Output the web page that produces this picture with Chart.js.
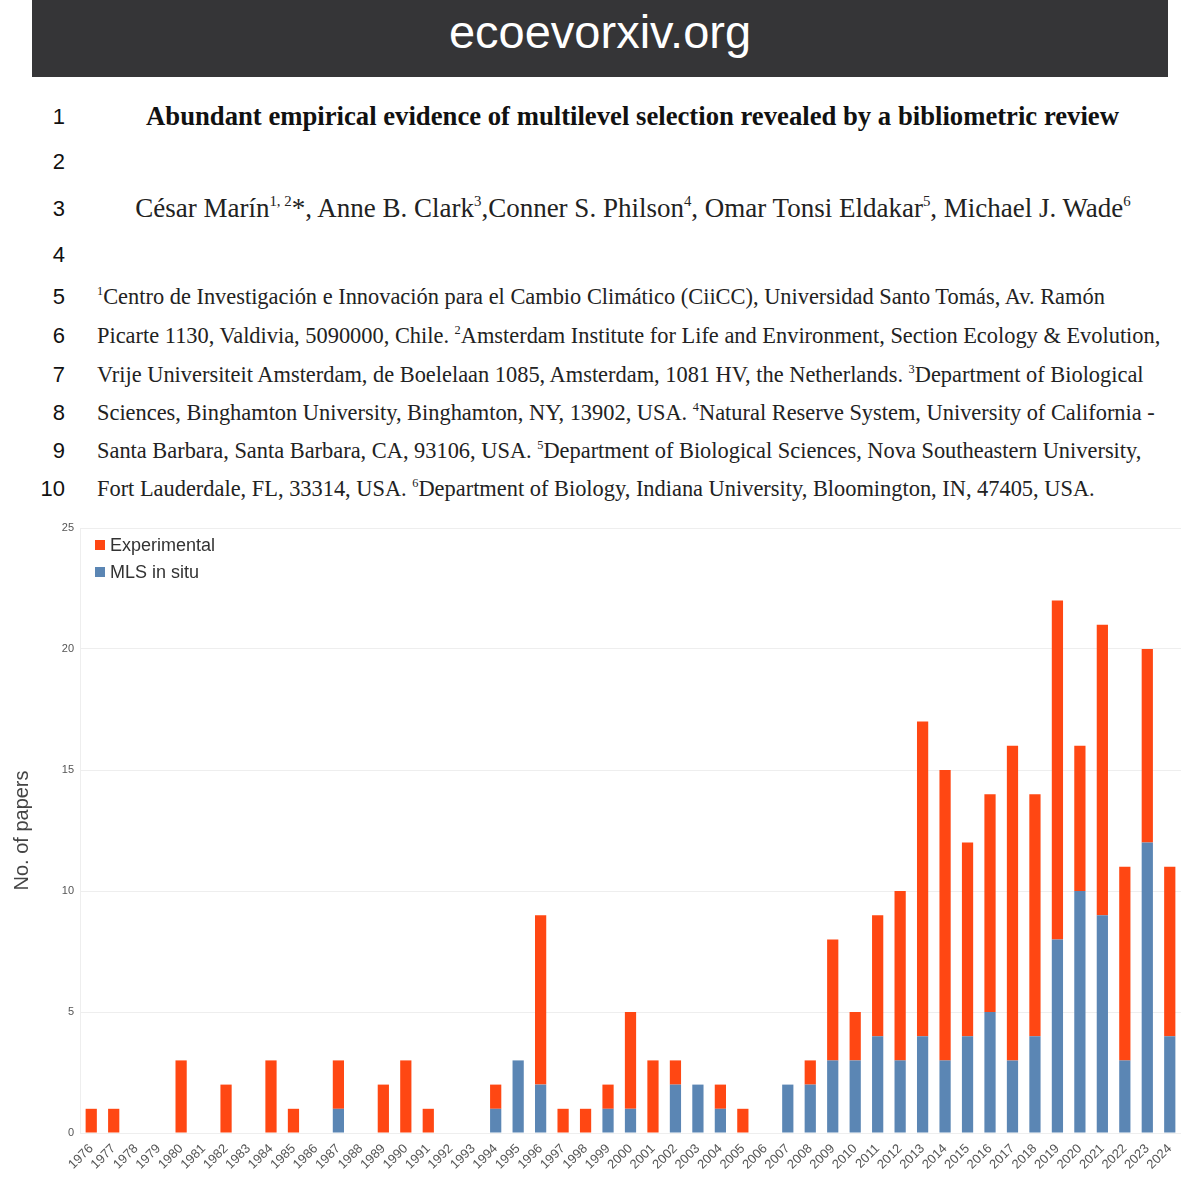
<!DOCTYPE html>
<html>
<head>
<meta charset="utf-8">
<script src="https://cdn.jsdelivr.net/npm/chart.js@4.4.0/dist/chart.umd.min.js"></script>
<style>
  body { margin: 0; width: 1200px; height: 1200px; background: #fff; position: relative; overflow: hidden; }
  #header {
    position: absolute; left: 32px; top: 0; width: 1136px; height: 77px;
    background: #353537; color: #fff; text-align: center;
    font-family: "Liberation Sans", Arial, sans-serif; font-size: 47px; line-height: 64px;
  }
  .num {
    position: absolute; left: 0; width: 65px; text-align: right;
    font-family: "Liberation Sans", Arial, sans-serif; font-size: 22px; color: #111; line-height: 26px;
  }
  .txt {
    position: absolute; white-space: nowrap; color: #222;
    font-family: "Liberation Serif", "Times New Roman", serif; line-height: 26px;
  }
  .txt sup { font-size: 0.55em; vertical-align: 0; position: relative; top: -0.75em; }
  #chartBox { position: absolute; left: 0; top: 515px; width: 1200px; height: 675px; }
  #legend { position: absolute; left: 95px; top: 535px; font-family: "Liberation Sans", Arial, sans-serif; font-size: 18px; color: #333; }
  #legend div { height: 27px; line-height: 20px; }
  #legend span.box { display: inline-block; width: 10px; height: 10px; margin-right: 5px; vertical-align: 1px; }
</style>
</head>
<body>
<div id="header">ecoevorxiv.org</div>

<div class="num" style="top:104px">1</div>
<div class="num" style="top:149px">2</div>
<div class="num" style="top:196px">3</div>
<div class="num" style="top:242px">4</div>
<div class="num" style="top:284px">5</div>
<div class="num" style="top:323px">6</div>
<div class="num" style="top:362px">7</div>
<div class="num" style="top:400px">8</div>
<div class="num" style="top:438px">9</div>
<div class="num" style="top:476px">10</div>

<div class="txt" style="left:0;width:1265px;text-align:center;top:103px;font-size:26.7px;font-weight:bold;color:#111">Abundant empirical evidence of multilevel selection revealed by a bibliometric review</div>
<div class="txt" style="left:0;width:1266px;text-align:center;top:195px;font-size:27px">César Marín<sup>1, 2</sup>*, Anne B. Clark<sup>3</sup>,Conner S. Philson<sup>4</sup>, Omar Tonsi Eldakar<sup>5</sup>, Michael J. Wade<sup>6</sup></div>

<div class="txt" style="left:97px;top:284px;font-size:22.4px"><sup>1</sup>Centro de Investigación e Innovación para el Cambio Climático (CiiCC), Universidad Santo Tomás, Av. Ramón</div>
<div class="txt" style="left:97px;top:323px;font-size:22.4px">Picarte 1130, Valdivia, 5090000, Chile. <sup>2</sup>Amsterdam Institute for Life and Environment, Section Ecology &amp; Evolution,</div>
<div class="txt" style="left:97px;top:362px;font-size:22.4px">Vrije Universiteit Amsterdam, de Boelelaan 1085, Amsterdam, 1081 HV, the Netherlands. <sup>3</sup>Department of Biological</div>
<div class="txt" style="left:97px;top:400px;font-size:22.4px">Sciences, Binghamton University, Binghamton, NY, 13902, USA. <sup>4</sup>Natural Reserve System, University of California -</div>
<div class="txt" style="left:97px;top:438px;font-size:22.4px">Santa Barbara, Santa Barbara, CA, 93106, USA. <sup>5</sup>Department of Biological Sciences, Nova Southeastern University,</div>
<div class="txt" style="left:97px;top:476px;font-size:22.4px">Fort Lauderdale, FL, 33314, USA. <sup>6</sup>Department of Biology, Indiana University, Bloomington, IN, 47405, USA.</div>

<div id="chartBox"><canvas id="papersChart"></canvas></div>
<div id="legend"></div>

<script>
// Publication years
const years = ['1976','1977','1978','1979','1980','1981','1982','1983','1984','1985',
  '1986','1987','1988','1989','1990','1991','1992','1993','1994','1995',
  '1996','1997','1998','1999','2000','2001','2002','2003','2004','2005',
  '2006','2007','2008','2009','2010','2011','2012','2013','2014','2015',
  '2016','2017','2018','2019','2020','2021','2022','2023','2024'];

// Papers per year, MLS in situ (bottom of each stack)
const mlsInSitu = [0,0,0,0,0,0,0,0,0,0,
  0,1,0,0,0,0,0,0,1,3,
  2,0,0,1,1,0,2,2,1,0,
  0,2,2,3,3,4,3,4,3,4,
  5,3,4,8,10,9,3,12,4];

// Papers per year, experimental (stacked on top)
const experimental = [1,1,0,0,3,0,2,0,3,1,
  0,2,0,2,3,1,0,0,1,0,
  7,1,1,1,4,3,1,0,1,1,
  0,0,1,5,2,5,7,13,12,8,
  9,13,10,14,6,12,8,8,7];

const yTicks = [0, 5, 10, 15, 20, 25];

const redColor = '#ff4713';
const blueColor = '#5b86b4';

document.addEventListener('DOMContentLoaded', function () {
    const ctx = document.getElementById('papersChart').getContext('2d');

    const chart = new Chart(ctx, {
        type: 'bar',
        data: {
            labels: years,
            datasets: [{
                label: 'MLS in situ',
                data: mlsInSitu,
                backgroundColor: blueColor,
                borderWidth: 0
            }, {
                label: 'Experimental',
                data: experimental,
                backgroundColor: redColor,
                borderWidth: 0
            }]
        },
        options: {
            responsive: true,
            maintainAspectRatio: false,
            animation: false,
            layout: {
                padding: { left: 10, right: 19, top: 13, bottom: 0 }
            },
            plugins: {
                legend: { display: false },
                tooltip: { enabled: false }
            },
            datasets: {
                bar: { barPercentage: 0.5, categoryPercentage: 1.0 }
            },
            scales: {
                x: {
                    stacked: true,
                    grid: { display: false },
                    border: { display: false },
                    ticks: {
                        autoSkip: false,
                        minRotation: 45,
                        maxRotation: 45,
                        color: '#555',
                        font: { family: 'Liberation Sans', size: 13 },
                        padding: 0
                    },
                    afterFit: function (scale) { scale.height = 57; }
                },
                y: {
                    stacked: true,
                    min: 0,
                    max: 25,
                    afterBuildTicks: function (scale) {
                        scale.ticks = yTicks.map(v => ({ value: v }));
                    },
                    grid: { color: '#eeeeee', drawTicks: false },
                    border: { display: true, color: '#eeeeee' },
                    ticks: {
                        color: '#555',
                        font: { family: 'Liberation Sans', size: 11 },
                        padding: 6
                    },
                    title: {
                        display: true,
                        text: 'No. of papers',
                        color: '#444',
                        font: { family: 'Liberation Sans', size: 20 },
                        padding: { top: 0, bottom: 10 }
                    },
                    afterFit: function (scale) { scale.width = 70; }
                }
            }
        }
    });

    // Legend drawn inside the plot area, top-left, in the original order
    const legend = document.getElementById('legend');
    chart.data.datasets.slice().reverse().forEach(function (ds) {
        const row = document.createElement('div');
        row.innerHTML = '<span class="box" style="background:' + ds.backgroundColor + '"></span>' + ds.label;
        legend.appendChild(row);
    });
});
</script>
</body>
</html>
